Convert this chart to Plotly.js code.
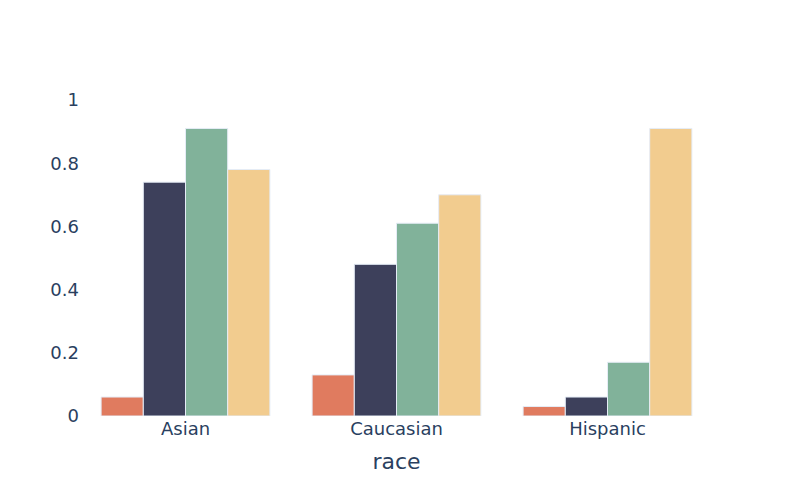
<!DOCTYPE html>
<html>
<head>
<meta charset="utf-8">
<script src="https://cdn.plot.ly/plotly-3.0.1.min.js"></script>
<style>html,body{margin:0;padding:0;background:#fff;}</style>
</head>
<body>
<div id="chart" style="width:793px;height:496px;"></div>
<script>
const categories = ["Asian", "Caucasian", "Hispanic"];
const series1 = [0.06, 0.13, 0.03];
const series2 = [0.74, 0.48, 0.06];
const series3 = [0.91, 0.61, 0.17];
const series4 = [0.78, 0.70, 0.91];
const seriesNames = ["s1", "s2", "s3", "s4"];
const colors = ["#E07B5F", "#3D405B", "#81B29A", "#F2CC8F"];

const allSeries = [series1, series2, series3, series4];
const data = allSeries.map((vals, i) => ({
  type: "bar",
  x: categories,
  y: vals,
  name: seriesNames[i],
  marker: {color: colors[i], line: {color: "#E5ECF6", width: 1}}
}));

const layout = {
  width: 793,
  height: 496,
  margin: {l: 80, r: 80, t: 100, b: 80},
  paper_bgcolor: "#ffffff",
  plot_bgcolor: "#ffffff",
  barmode: "group",
  bargap: 0.2,
  bargroupgap: 0,
  showlegend: false,
  font: {family: "'DejaVu Sans', sans-serif", color: "#2a3f5f", size: 18},
  xaxis: {
    title: {text: "race", font: {size: 22}, standoff: 15},
    showgrid: false,
    zeroline: false,
    showline: false,
    ticks: "",
    automargin: false
  },
  yaxis: {
    range: [0, 1],
    showgrid: false,
    zeroline: false,
    showline: false,
    dtick: 0.2,
    ticks: "",
    automargin: false
  }
};

Plotly.newPlot("chart", data, layout, {displayModeBar: false});
</script>
</body>
</html>
